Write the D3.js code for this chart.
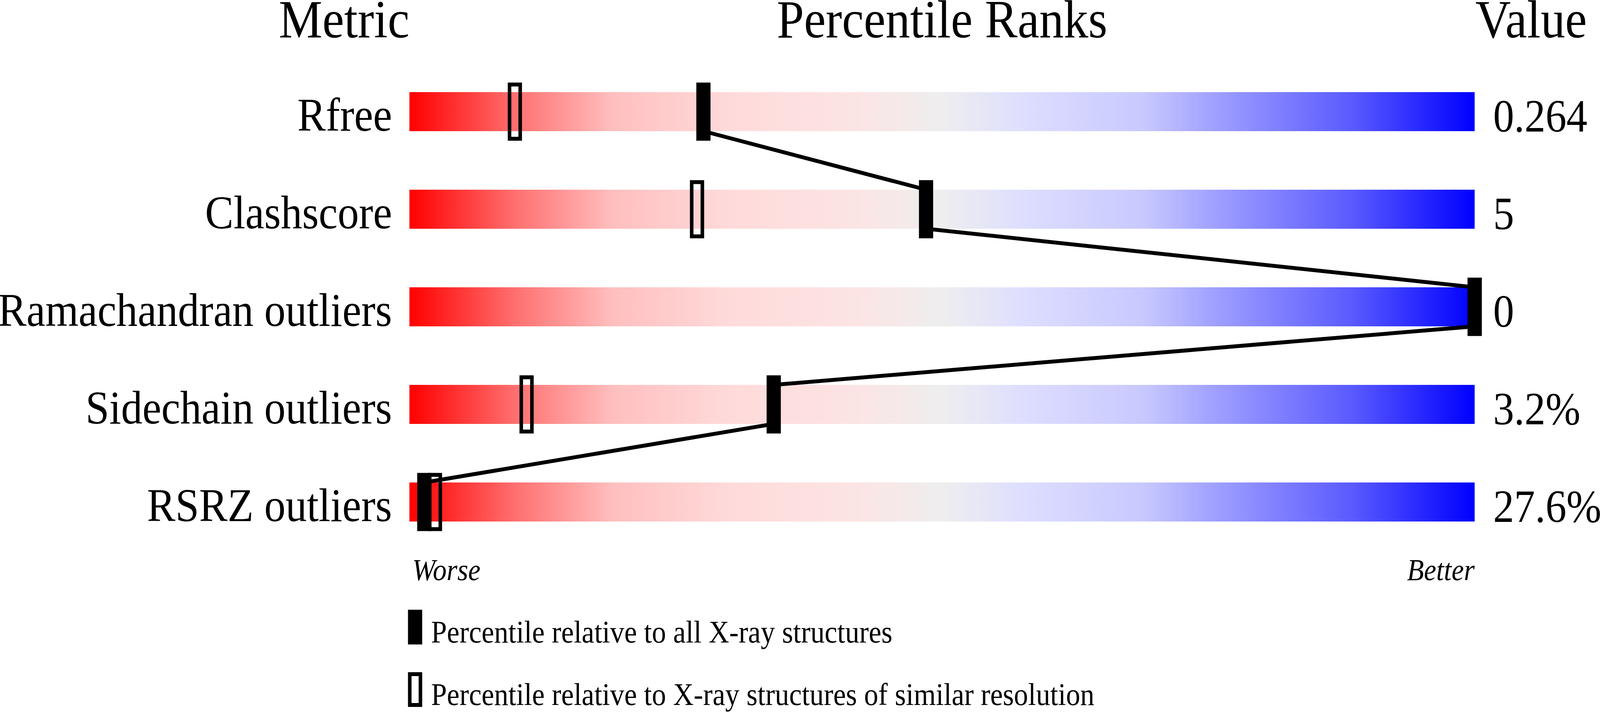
<!DOCTYPE html>
<html>
<head>
<meta charset="utf-8">
<script src="https://cdn.jsdelivr.net/npm/d3@7"></script>
<style>
  html, body { margin: 0; padding: 0; background: #fff; overflow: hidden; }
  text { font-family: "Liberation Serif", "Times New Roman", serif; fill: #000; }
</style>
</head>
<body>
<div id="chart"></div>
<script>
// chart data
const metrics = ["Rfree", "Clashscore", "Ramachandran outliers", "Sidechain outliers", "RSRZ outliers"];
const values = ["0.264", "5", "0", "3.2%", "27.6%"];
const pctAll = [27.6, 48.5, 100, 34.2, 1.4];      // percentile vs all X-ray structures
const pctSimilar = [9.9, 27.0, 100, 11.0, 2.4];   // percentile vs similar resolution
const legendLabels = ["Percentile relative to all X-ray structures",
  "Percentile relative to X-ray structures of similar resolution"];

const width = 4506;
const height = 1824;

// drawn in a 4506x1824 space, stretched to fill the window
const svg = d3.select("#chart")
  .append("svg")
  .attr("width", window.innerWidth)
  .attr("height", window.innerHeight)
  .attr("viewBox", `0 0 ${width} ${height}`)
  .attr("preserveAspectRatio", "none")
  .style("display", "block");

const x = d3.scaleLinear().domain([0, 100]).range([1153, 4153]);
const y = d3.scaleBand().domain(metrics).range([236, 1336]).paddingInner(0.6).paddingOuter(0);

// red -> grey -> blue gradient of the bars
const stops = [
  [0, "#ff0000"], [0.1, "#ff7070"], [0.19, "#ffbebe"], [0.3, "#ffdada"],
  [0.42, "#fce4e4"], [0.5, "#eeeeee"], [0.575, "#dedeff"], [0.69, "#c8c8ff"],
  [0.755, "#a0a0ff"], [0.885, "#5a5aff"], [1, "#0000ff"]
];
const grad = svg.append("defs").append("linearGradient")
  .attr("id", "rank-grad")
  .attr("x1", "0%").attr("x2", "100%").attr("y1", "0%").attr("y2", "0%");
grad.selectAll("stop")
  .data(stops)
  .enter().append("stop")
  .attr("offset", d => d[0])
  .attr("stop-color", d => d[1]);

// headers
svg.append("text").attr("x", x(0)).attr("y", 96)
  .attr("text-anchor", "end").style("font-size", "138px").text("Metric");
svg.append("text").attr("x", (x(0) + x(100)) / 2).attr("y", 96)
  .attr("text-anchor", "middle").style("font-size", "138px").text("Percentile Ranks");
svg.append("text").attr("x", x(100) + 2).attr("y", 96)
  .attr("text-anchor", "start").style("font-size", "138px").text("Value");

// bars
svg.selectAll(".bar")
  .data(metrics)
  .enter().append("rect")
  .attr("class", "bar")
  .attr("x", x(0))
  .attr("y", d => y(d))
  .attr("width", x(100) - x(0))
  .attr("height", y.bandwidth())
  .attr("fill", "url(#rank-grad)");

// metric names and values
svg.selectAll(".metric")
  .data(metrics)
  .enter().append("text")
  .attr("class", "metric")
  .attr("x", 1104)
  .attr("y", d => y(d) + y.bandwidth() - 1)
  .attr("text-anchor", "end")
  .style("font-size", "120px")
  .text(d => d);

svg.selectAll(".value")
  .data(values)
  .enter().append("text")
  .attr("class", "value")
  .attr("x", 4205)
  .attr("y", (d, i) => y(metrics[i]) + y.bandwidth() + 1)
  .style("font-size", "118px")
  .text(d => d);

// connecting line: bottom of one bar to top of the next
const pts = [];
pctAll.forEach((p, i) => {
  if (i > 0) pts.push([x(p), y(metrics[i])]);
  if (i < pctAll.length - 1) pts.push([x(p), y(metrics[i]) + y.bandwidth()]);
});
svg.append("path")
  .attr("d", d3.line()(pts))
  .attr("fill", "none")
  .attr("stroke", "#000")
  .attr("stroke-width", 10);

const markW = 40, markH = 149;
const ext = (markH - y.bandwidth()) / 2;

// open markers (similar resolution)
svg.selectAll(".open")
  .data(pctSimilar)
  .enter().append("rect")
  .attr("class", "open")
  .attr("x", d => x(d) - markW / 2 + 5)
  .attr("y", (d, i) => y(metrics[i]) - ext + 5)
  .attr("width", markW - 10)
  .attr("height", markH - 10)
  .attr("fill", "none")
  .attr("stroke", "#000")
  .attr("stroke-width", 10);

// filled markers (all structures)
svg.selectAll(".filled")
  .data(pctAll)
  .enter().append("rect")
  .attr("class", "filled")
  .attr("x", d => x(d) - markW / 2)
  .attr("y", (d, i) => y(metrics[i]) - ext)
  .attr("width", markW)
  .attr("height", markH)
  .attr("fill", "#000");

// worse / better
svg.append("text").attr("x", x(0) + 8).attr("y", 1486)
  .style("font-size", "78px").style("font-style", "italic").text("Worse");
svg.append("text").attr("x", x(100)).attr("y", 1486)
  .attr("text-anchor", "end")
  .style("font-size", "78px").style("font-style", "italic").text("Better");

// legend
const legend = svg.selectAll(".legend")
  .data(legendLabels)
  .enter().append("g")
  .attr("class", "legend")
  .attr("transform", (d, i) => `translate(1149,${1562 + i * 160})`);

legend.append("rect")
  .attr("x", (d, i) => i === 0 ? 0 : 5)
  .attr("y", (d, i) => i === 0 ? 0 : 5)
  .attr("width", (d, i) => i === 0 ? 40 : 30)
  .attr("height", (d, i) => i === 0 ? 89 : 79)
  .attr("fill", (d, i) => i === 0 ? "#000" : "none")
  .attr("stroke", (d, i) => i === 0 ? "none" : "#000")
  .attr("stroke-width", 10);

legend.append("text")
  .attr("x", 65)
  .attr("y", 84)
  .style("font-size", "80px")
  .text(d => d);
</script>
</body>
</html>
